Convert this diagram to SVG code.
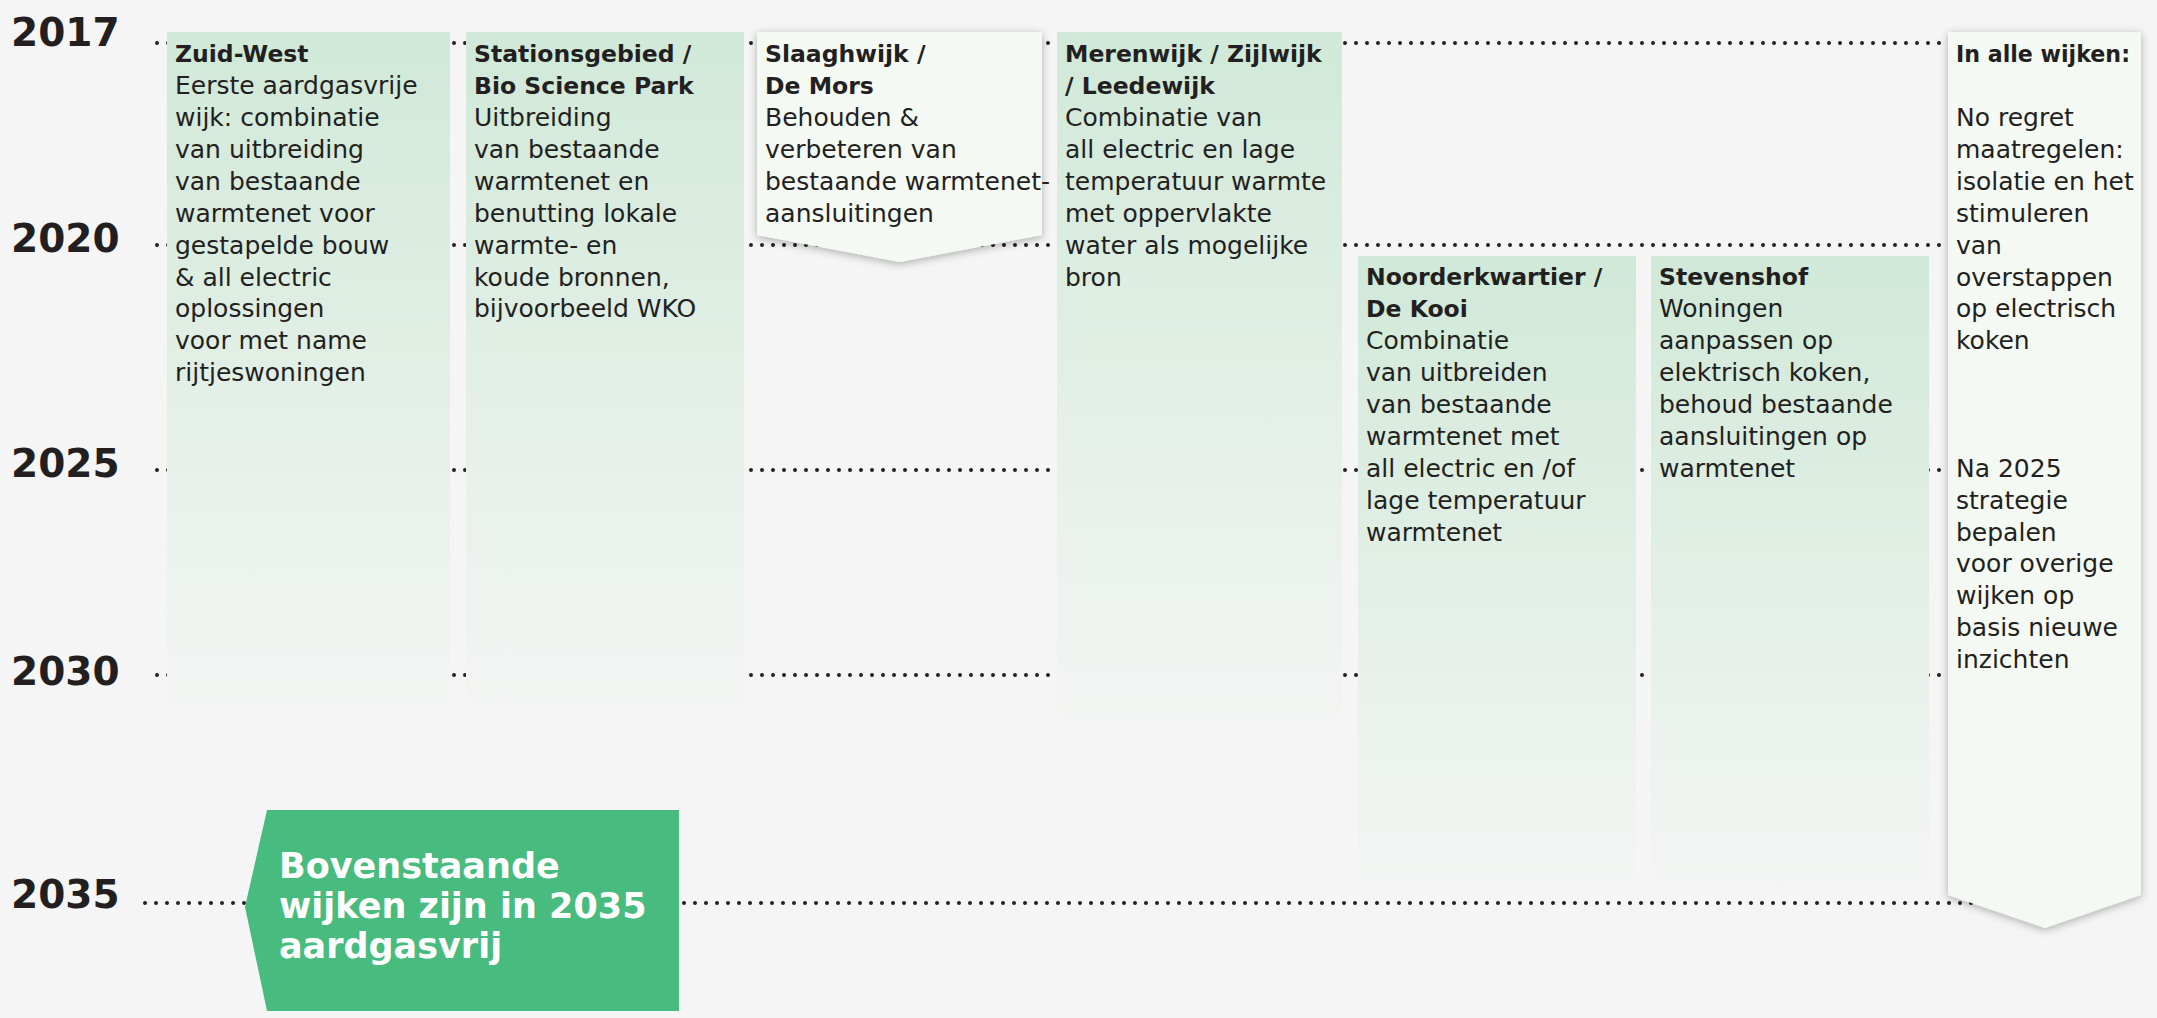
<svg xmlns="http://www.w3.org/2000/svg" width="2157" height="1018" viewBox="0 0 2157 1018">
<style>
.yr{font-family:"DejaVu Sans",sans-serif;font-weight:bold;font-size:39px;fill:#231f20}
.t{font-family:"DejaVu Sans",sans-serif;font-weight:bold;font-size:23.5px;fill:#231f20}
.b{font-family:"DejaVu Sans",sans-serif;font-size:25px;fill:#231f20}
.g{font-family:"DejaVu Sans",sans-serif;font-weight:bold;font-size:35px;fill:#ffffff}
.dot{stroke:#231f20;stroke-width:4;stroke-linecap:round;stroke-dasharray:0 11;fill:none}
</style>
<defs>
<linearGradient id="colg" x1="0" y1="0" x2="0" y2="1">
<stop offset="0" stop-color="#d0e9d8"/>
<stop offset="1" stop-color="#f4f5f4"/>
</linearGradient>
<filter id="sh" x="-10%" y="-10%" width="120%" height="120%">
<feDropShadow dx="0" dy="2" stdDeviation="4" flood-color="#000" flood-opacity="0.3"/>
</filter>
</defs>
<rect x="0" y="0" width="2157" height="1018" fill="#f5f5f5"/>

<g id="years">
<text class="yr" x="11" y="46">2017</text>
<text class="yr" x="11" y="252">2020</text>
<text class="yr" x="11" y="477">2025</text>
<text class="yr" x="11" y="685">2030</text>
<text class="yr" x="11" y="908">2035</text>
</g>

<g id="connectors">
<line class="dot" x1="157" y1="43" x2="1947" y2="43"/>
<line class="dot" x1="157" y1="245" x2="1947" y2="245"/>
<line class="dot" x1="157" y1="470" x2="1947" y2="470"/>
<line class="dot" x1="157" y1="675" x2="1947" y2="675"/>
<line class="dot" x1="145" y1="903" x2="2040" y2="903"/>
</g>

<g id="zuid-west">
<rect x="167" y="32" width="283" height="685" fill="url(#colg)"/>
<text class="t" x="175" y="62">Zuid-West</text>
<text class="b" x="175" y="94">Eerste aardgasvrije</text>
<text class="b" x="175" y="126">wijk: combinatie</text>
<text class="b" x="175" y="158">van uitbreiding</text>
<text class="b" x="175" y="190">van bestaande</text>
<text class="b" x="175" y="222">warmtenet voor</text>
<text class="b" x="175" y="254">gestapelde bouw</text>
<text class="b" x="175" y="286">&amp; all electric</text>
<text class="b" x="175" y="317">oplossingen</text>
<text class="b" x="175" y="349">voor met name</text>
<text class="b" x="175" y="381">rijtjeswoningen</text>
</g>

<g id="stationsgebied">
<rect x="466" y="32" width="278" height="685" fill="url(#colg)"/>
<text class="t" x="474" y="62">Stationsgebied /</text>
<text class="t" x="474" y="94">Bio Science Park</text>
<text class="b" x="474" y="126">Uitbreiding</text>
<text class="b" x="474" y="158">van bestaande</text>
<text class="b" x="474" y="190">warmtenet en</text>
<text class="b" x="474" y="222">benutting lokale</text>
<text class="b" x="474" y="254">warmte- en</text>
<text class="b" x="474" y="286">koude bronnen,</text>
<text class="b" x="474" y="317">bijvoorbeeld WKO</text>
</g>

<g id="slaaghwijk">
<path d="M757,32 H1042 V235 L899.5,262 L757,235 Z" fill="#f4f9f3" filter="url(#sh)"/>
<text class="t" x="765" y="62">Slaaghwijk /</text>
<text class="t" x="765" y="94">De Mors</text>
<text class="b" x="765" y="126">Behouden &amp;</text>
<text class="b" x="765" y="158">verbeteren van</text>
<text class="b" x="765" y="190">bestaande warmtenet-</text>
<text class="b" x="765" y="222">aansluitingen</text>
</g>

<g id="merenwijk">
<rect x="1057" y="32" width="285" height="703" fill="url(#colg)"/>
<text class="t" x="1065" y="62">Merenwijk / Zijlwijk</text>
<text class="t" x="1065" y="94">/ Leedewijk</text>
<text class="b" x="1065" y="126">Combinatie van</text>
<text class="b" x="1065" y="158">all electric en lage</text>
<text class="b" x="1065" y="190">temperatuur warmte</text>
<text class="b" x="1065" y="222">met oppervlakte</text>
<text class="b" x="1065" y="254">water als mogelijke</text>
<text class="b" x="1065" y="286">bron</text>
</g>

<g id="noorderkwartier">
<rect x="1358" y="256" width="278" height="640" fill="url(#colg)"/>
<text class="t" x="1366" y="285">Noorderkwartier /</text>
<text class="t" x="1366" y="317">De Kooi</text>
<text class="b" x="1366" y="349">Combinatie</text>
<text class="b" x="1366" y="381">van uitbreiden</text>
<text class="b" x="1366" y="413">van bestaande</text>
<text class="b" x="1366" y="445">warmtenet met</text>
<text class="b" x="1366" y="477">all electric en /of</text>
<text class="b" x="1366" y="509">lage temperatuur</text>
<text class="b" x="1366" y="541">warmtenet</text>
</g>

<g id="stevenshof">
<rect x="1651" y="256" width="278" height="640" fill="url(#colg)"/>
<text class="t" x="1659" y="285">Stevenshof</text>
<text class="b" x="1659" y="317">Woningen</text>
<text class="b" x="1659" y="349">aanpassen op</text>
<text class="b" x="1659" y="381">elektrisch koken,</text>
<text class="b" x="1659" y="413">behoud bestaande</text>
<text class="b" x="1659" y="445">aansluitingen op</text>
<text class="b" x="1659" y="477">warmtenet</text>
</g>

<g id="alle-wijken">
<path d="M1948,32 H2141 V895 L2045,928 L1948,895 Z" fill="#f4f9f3" filter="url(#sh)"/>
<text class="t" x="1956" y="62" textLength="174" lengthAdjust="spacingAndGlyphs">In alle wijken:</text>
<text class="b" x="1956" y="126">No regret</text>
<text class="b" x="1956" y="158">maatregelen:</text>
<text class="b" x="1956" y="190">isolatie en het</text>
<text class="b" x="1956" y="222">stimuleren</text>
<text class="b" x="1956" y="254">van</text>
<text class="b" x="1956" y="286">overstappen</text>
<text class="b" x="1956" y="317">op electrisch</text>
<text class="b" x="1956" y="349">koken</text>
<text class="b" x="1956" y="477">Na 2025</text>
<text class="b" x="1956" y="509">strategie</text>
<text class="b" x="1956" y="541">bepalen</text>
<text class="b" x="1956" y="572">voor overige</text>
<text class="b" x="1956" y="604">wijken op</text>
<text class="b" x="1956" y="636">basis nieuwe</text>
<text class="b" x="1956" y="668">inzichten</text>
</g>

<g id="aardgasvrij-2035">
<path d="M267,810 H679 V1011 H267 L245,907 Z" fill="#48bb7e"/>
<text class="g" x="279" y="878">Bovenstaande</text>
<text class="g" x="279" y="918">wijken zijn in 2035</text>
<text class="g" x="279" y="958">aardgasvrij</text>
</g>
</svg>
